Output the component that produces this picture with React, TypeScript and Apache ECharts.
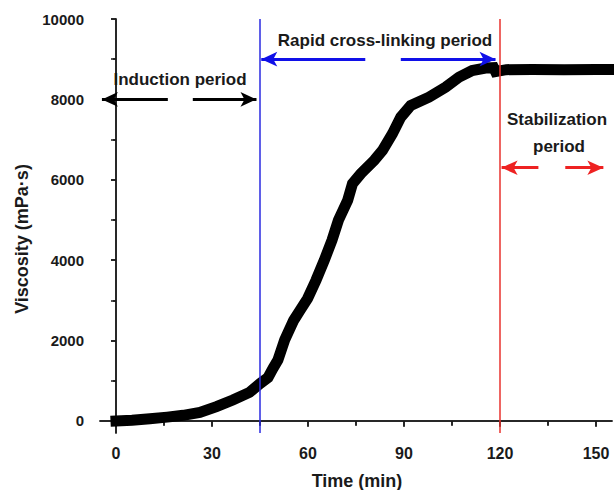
import React, { useEffect, useRef } from "react";
import * as echarts from "echarts";

const timeMin = [0, 5, 10.6, 16, 21, 26.2, 31.4, 36.5, 41.7, 45, 47.5, 49, 50.6, 52.7, 55.5, 57.5, 59.9, 62.5, 65.1, 67.5, 69.5, 72.4, 73.9, 76.5, 80.7, 83.3, 86.4, 89, 92.1, 97.8, 103, 107.2, 111.3, 115.5, 118, 118.6, 122, 130, 140, 150, 155];
const viscosity = [0, 20, 55, 95, 140, 210, 355, 520, 710, 930, 1080, 1300, 1515, 2012, 2500, 2750, 3050, 3502, 4000, 4496, 4993, 5490, 5904, 6153, 6483, 6732, 7147, 7559, 7850, 8056, 8304, 8553, 8719, 8780, 8790, 8690, 8740, 8745, 8740, 8745, 8745];

const xLabels = [0, 30, 60, 90, 120, 150];
const xMinor = [15, 45, 75, 105, 135];
const xAllTicks = [0, 15, 30, 45, 60, 75, 90, 105, 120, 135, 150];
const yLabels = [0, 2000, 4000, 6000, 8000, 10000];
const yMinor = [1000, 3000, 5000, 7000, 9000];
const yAllTicks = [0, 1000, 2000, 3000, 4000, 5000, 6000, 7000, 8000, 9000, 10000];

const periodBounds = [45, 120];
const inductionArrows = [[-4.4, 16.2], [24, 43.9]];
const inductionY = 8000;
const rapidArrows = [[45.4, 77.9], [89, 118.6]];
const rapidY = 9000;
const stabArrows = [[120.5, 132], [140.4, 152.3]];
const stabY = 6300;

const FONT = "'Liberation Sans', Arial, sans-serif";

function arrowPair(pairs: number[][], y: number, color: string) {
  const out: any[] = [];
  out.push([
    { coord: [pairs[0][0], y], symbol: "arrow", lineStyle: { color, width: 3, type: "solid" } },
    { coord: [pairs[0][1], y], symbol: "none" },
  ]);
  out.push([
    { coord: [pairs[1][0], y], symbol: "none", lineStyle: { color, width: 3, type: "solid" } },
    { coord: [pairs[1][1], y], symbol: "arrow" },
  ]);
  return out.map((d) => {
    d[0].itemStyle = { color };
    d[1].itemStyle = { color };
    return d;
  });
}

export default function App() {
  const ref = useRef<HTMLDivElement>(null);
  useEffect(() => {
    if (!ref.current) return;
    const chart = echarts.init(ref.current, undefined, { renderer: "svg" });
    const data = timeMin.map((t, i) => [t, viscosity[i]]);
    const axisLine = { show: true, lineStyle: { color: "#1a1a1a", width: 1.5 } };
    const option: any = {
      animation: false,
      backgroundColor: "#ffffff",
      grid: { left: 100, top: 19, right: 2, bottom: 57, containLabel: false },
      xAxis: [
        {
          type: "value", position: "bottom", min: -5, max: 155,
          axisLine, splitLine: { show: false },
          axisTick: { show: true, inside: false, length: 6, customValues: xLabels, lineStyle: { color: "#1a1a1a", width: 1.5 } },
          axisLabel: { customValues: xLabels, margin: 12, fontFamily: FONT, fontWeight: "bold", fontSize: 16, color: "#1a1a1a", formatter: (v: number) => String(v) },
        },
        {
          type: "value", position: "bottom", min: -5, max: 155,
          axisLine: { show: false }, splitLine: { show: false },
          axisTick: { show: true, inside: false, length: 4, customValues: xMinor, lineStyle: { color: "#1a1a1a", width: 1.5 } },
          axisLabel: { show: false },
        },
        {
          type: "value", position: "top", min: -5, max: 155,
          axisLine, splitLine: { show: false },
          axisTick: { show: true, inside: true, length: 5, customValues: xAllTicks, lineStyle: { color: "#1a1a1a", width: 1.5 } },
          axisLabel: { show: false },
        },
      ],
      yAxis: [
        {
          type: "value", position: "left", min: -300, max: 10000,
          axisLine, splitLine: { show: false },
          axisTick: { show: true, inside: false, length: 5, customValues: yLabels, lineStyle: { color: "#1a1a1a", width: 1.5 } },
          axisLabel: { customValues: yLabels, margin: 16, fontFamily: FONT, fontWeight: "bold", fontSize: 15, color: "#1a1a1a", formatter: (v: number) => String(v) },
        },
        {
          type: "value", position: "left", min: -300, max: 10000,
          axisLine: { show: false }, splitLine: { show: false },
          axisTick: { show: true, inside: false, length: 3, customValues: yMinor, lineStyle: { color: "#1a1a1a", width: 1.5 } },
          axisLabel: { show: false },
        },
        {
          type: "value", position: "right", min: -300, max: 10000,
          axisLine, splitLine: { show: false },
          axisTick: { show: true, inside: true, length: 5, customValues: yAllTicks, lineStyle: { color: "#1a1a1a", width: 1.5 } },
          axisLabel: { show: false },
        },
      ],
      series: [
        {
          type: "line", xAxisIndex: 0, yAxisIndex: 0, data, symbol: "none", clip: true,
          lineStyle: { color: "#000000", width: 11, cap: "square", join: "miter" },
          markLine: {
            silent: true, symbol: "none", animation: false,
            label: { show: false },
            data: [
              { xAxis: periodBounds[0], lineStyle: { color: "#2a2ae0", width: 1.5, type: "solid" } },
              { xAxis: periodBounds[1], lineStyle: { color: "#e8322e", width: 1.5, type: "solid" } },
            ],
          },
        },
        {
          type: "line", xAxisIndex: 0, yAxisIndex: 0, data: [], symbol: "none",
          markLine: {
            silent: true, animation: false, symbolSize: [11, 16],
            label: { show: false },
            data: [
              ...arrowPair(inductionArrows, inductionY, "#000000"),
              ...arrowPair(rapidArrows, rapidY, "#1010e8"),
              ...arrowPair(stabArrows, stabY, "#ee2222"),
            ],
          },
        },
      ],
      graphic: [
        { type: "text", x: 22, y: 239, rotation: Math.PI / 2, style: { text: "Viscosity (mPa·s)", align: "center", verticalAlign: "middle", font: `bold 18px ${FONT}`, fill: "#1a1a1a" } },
        { type: "text", x: 357, y: 481, style: { text: "Time (min)", align: "center", verticalAlign: "middle", font: `bold 18px ${FONT}`, fill: "#1a1a1a" } },
        { type: "text", x: 180, y: 79, style: { text: "Induction period", align: "center", verticalAlign: "middle", font: `bold 17px ${FONT}`, fill: "#1a1a1a" } },
        { type: "text", x: 385, y: 40, style: { text: "Rapid cross-linking period", align: "center", verticalAlign: "middle", font: `bold 17px ${FONT}`, fill: "#1a1a1a" } },
        { type: "text", x: 557, y: 119, style: { text: "Stabilization", align: "center", verticalAlign: "middle", font: `bold 17px ${FONT}`, fill: "#1a1a1a" } },
        { type: "text", x: 559, y: 146, style: { text: "period", align: "center", verticalAlign: "middle", font: `bold 17px ${FONT}`, fill: "#1a1a1a" } },
      ],
    };
    chart.setOption(option);
    return () => chart.dispose();
  }, []);
  return <div ref={ref} style={{ position: "fixed", left: 0, top: 0, width: 614, height: 490 }} />;
}
